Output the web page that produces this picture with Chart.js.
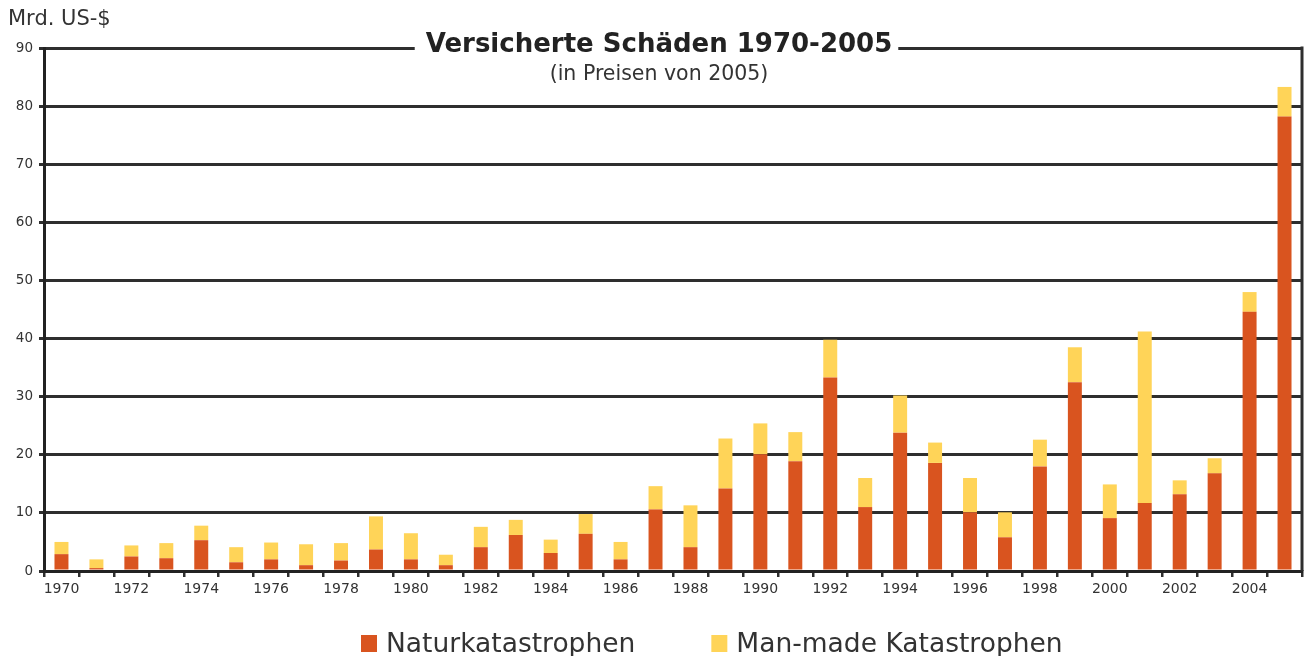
<!DOCTYPE html>
<html lang="de">
<head>
<meta charset="utf-8">
<title>Versicherte Schäden 1970-2005</title>
<script src="https://cdn.jsdelivr.net/npm/chart.js@4"></script>
<style>
  html, body { margin: 0; padding: 0; background: #fff; }
  #wrap { width: 1305px; height: 656px; position: relative; }
</style>
</head>
<body>
<div id="wrap"><canvas id="chart"></canvas></div>
<script>
// Data (Mrd. US-$, in Preisen von 2005)
const years = ['1970', '1971', '1972', '1973', '1974', '1975', '1976', '1977', '1978', '1979',
    '1980', '1981', '1982', '1983', '1984', '1985', '1986', '1987', '1988', '1989',
    '1990', '1991', '1992', '1993', '1994', '1995', '1996', '1997', '1998', '1999',
    '2000', '2001', '2002', '2003', '2004', '2005'];
const naturKatastrophen = [2.9, 0.5, 2.5, 2.2, 5.3, 1.5, 2.0, 1.0, 1.8, 3.7,
    2.0, 1.0, 4.1, 6.2, 3.1, 6.4, 2.0, 10.6, 4.1, 14.2,
    20.1, 18.9, 33.3, 11.0, 23.8, 18.6, 10.1, 5.8, 18.0, 32.5,
    9.1, 11.7, 13.2, 16.8, 44.6, 78.2];
const manMadeKatastrophen = [2.1, 1.5, 1.9, 2.6, 2.5, 2.6, 2.9, 3.6, 3.0, 5.7,
    4.5, 1.8, 3.5, 2.6, 2.3, 3.4, 3.0, 4.0, 7.2, 8.6,
    5.3, 5.0, 6.5, 5.0, 6.4, 3.5, 5.9, 4.3, 4.6, 6.0,
    5.8, 29.5, 2.4, 2.6, 3.4, 5.1];
const seriesLabels = ['Naturkatastrophen', 'Man-made Katastrophen'];
const seriesColors = ['#d9541f', '#ffd458'];
const yTicks = [0, 10, 20, 30, 40, 50, 60, 70, 80, 90];

const chartTitle = 'Versicherte Schäden 1970-2005';
const chartSubtitle = '(in Preisen von 2005)';
const unitLabel = 'Mrd. US-$';

const fontFamily = '"DejaVu Sans", Verdana, sans-serif';
const textColor = '#333';
const lineColor = '#2e2e2e';

Chart.defaults.font.family = fontFamily;
Chart.defaults.color = textColor;

// Title over the top grid line, unit label, right border and legend
const decorPlugin = {
    id: 'decor',
    afterDraw(chart) {
        const ctx = chart.ctx;
        const area = chart.chartArea;
        ctx.save();

        // right border of the plot
        ctx.strokeStyle = lineColor;
        ctx.lineWidth = 3;
        ctx.beginPath();
        ctx.moveTo(area.right, area.top - 1.5);
        ctx.lineTo(area.right, area.bottom);
        ctx.stroke();

        // title with white gap in the top line
        const cx = 659;
        ctx.font = 'bold 26px ' + fontFamily;
        const tw = ctx.measureText(chartTitle).width;
        ctx.fillStyle = '#fff';
        ctx.fillRect(cx - tw / 2 - 11, area.top - 4, tw + 17, 8);
        ctx.fillStyle = '#222';
        ctx.textAlign = 'center';
        ctx.textBaseline = 'alphabetic';
        ctx.fillText(chartTitle, cx, 52);

        ctx.font = '20.5px ' + fontFamily;
        ctx.fillStyle = textColor;
        ctx.fillText(chartSubtitle, cx, 80);

        // unit label
        ctx.textAlign = 'left';
        ctx.font = '21px ' + fontFamily;
        ctx.fillText(unitLabel, 8, 25);

        // legend
        ctx.font = '26.5px ' + fontFamily;
        let x = 361;
        chart.data.datasets.forEach((ds) => {
            ctx.fillStyle = ds.backgroundColor;
            ctx.fillRect(x, 635, 16, 17);
            ctx.fillStyle = textColor;
            ctx.fillText(ds.label, x + 25, 652);
            x += 25 + ctx.measureText(ds.label).width + 76;
        });
        ctx.restore();
    }
};

new Chart(document.getElementById('chart'), {
    type: 'bar',
    data: {
        labels: years,
        datasets: [
            {
                label: seriesLabels[0],
                data: naturKatastrophen,
                backgroundColor: seriesColors[0],
                borderWidth: 0,
                barPercentage: 0.4,
                categoryPercentage: 1.0
            },
            {
                label: seriesLabels[1],
                data: manMadeKatastrophen,
                backgroundColor: seriesColors[1],
                borderWidth: 0,
                barPercentage: 0.4,
                categoryPercentage: 1.0
            }
        ]
    },
    options: {
        responsive: true,
        maintainAspectRatio: false,
        animation: false,
        layout: { padding: { left: 0, right: 3, top: 48, bottom: 0 } },
        plugins: {
            legend: { display: false },
            title: { display: false },
            tooltip: { enabled: false }
        },
        scales: {
            x: {
                stacked: true,
                offset: true,
                afterFit(scale) { scale.height = 85; },
                grid: {
                    offset: true,
                    drawOnChartArea: false,
                    drawTicks: true,
                    tickLength: 6,
                    color: lineColor,
                    lineWidth: 2.5
                },
                border: { display: true, color: '#222', width: 3 },
                ticks: {
                    autoSkip: false,
                    maxRotation: 0,
                    padding: 4,
                    color: textColor,
                    font: { size: 14 },
                    callback: (value, index) => (index % 2 === 0 ? years[index] : '')
                }
            },
            y: {
                stacked: true,
                min: yTicks[0],
                max: yTicks[yTicks.length - 1],
                afterFit(scale) { scale.width = 44; },
                afterBuildTicks(scale) { scale.ticks = yTicks.map(v => ({ value: v })); },
                grid: {
                    color: lineColor,
                    lineWidth: 3,
                    drawTicks: true,
                    tickLength: 5
                },
                border: { display: true, color: '#222', width: 3 },
                ticks: {
                    padding: 6,
                    color: textColor,
                    font: { size: 13.5 }
                }
            }
        }
    },
    plugins: [decorPlugin]
});
</script>
</body>
</html>
